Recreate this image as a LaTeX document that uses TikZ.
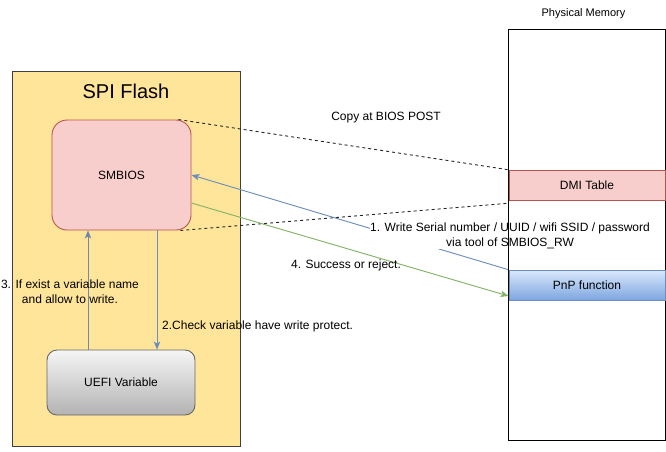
\documentclass[tikz,border=0pt]{standalone}
\usepackage{fontspec}
\setmainfont{Liberation Sans}
\usetikzlibrary{arrows.meta,calc}
\definecolor{spifill}{HTML}{FFE599}
\definecolor{redfill}{HTML}{F8CECC}
\definecolor{redline}{HTML}{B85450}
\definecolor{blueline}{HTML}{6C8EBF}
\definecolor{bluetop}{HTML}{DAE8FC}
\definecolor{bluebot}{HTML}{7EA6E0}
\definecolor{greyline}{HTML}{666666}
\definecolor{greenline}{HTML}{82B366}
\definecolor{greytop}{HTML}{F5F5F5}
\definecolor{greybot}{HTML}{B3B3B3}
\definecolor{line3}{HTML}{7088AC}
\tikzset{
  box/.style={draw, line width=0.9pt, minimum width=#1, inner sep=0pt, font=\fontsize{12}{14}\selectfont},
  lbl/.style={font=\fontsize{12}{14.5}\selectfont, inner sep=0pt, align=center},
  arr/.style={line width=0.9pt, -{Stealth[length=8pt,width=6.5pt,inset=2pt]}},
  dashln/.style={line width=0.9pt, dash pattern=on 3pt off 3pt, black!85},
}
\begin{document}
\begin{tikzpicture}[x=1pt,y=-1pt]
\useasboundingbox (0,0) rectangle (666,451);
% SPI Flash container
\node[box=228pt, minimum height=375pt, fill=spifill, draw=black!75] (spi) at (126,258.5) {};
\node[font=\fontsize{20}{24}\selectfont, inner sep=0pt] (spititle) at (126,91) {SPI Flash};
% SMBIOS
\node[box=139pt, minimum height=110pt, fill=redfill, draw=redline, rounded corners=15pt] (smbios) at (121.5,175) {SMBIOS};
% UEFI variable
\node[box=148pt, minimum height=65pt, top color=greytop, bottom color=greybot, draw=greyline, rounded corners=10pt] (uefi) at (121,382.5) {UEFI Variable};
% Physical memory label
\node[font=\fontsize{11}{13}\selectfont, inner sep=0pt] (memlbl) at (583.5,14) {Physical Memory};
% placeholders for memory parts
\node[minimum width=156pt, minimum height=410pt, inner sep=0pt] (mem) at (587,235) {};
\node[minimum width=156pt, minimum height=30pt, inner sep=0pt] (dmipos) at (587,185) {};
\node[minimum width=156pt, minimum height=30pt, inner sep=0pt] (pnppos) at (587,285) {};
% dashed copy lines
\coordinate (s1) at ($(smbios.north east)+(-13,0)$);
\coordinate (s2) at ($(smbios.south east)+(-11,0)$);
\coordinate (d2b) at ($(dmipos.south west)+(0,3)$);
\draw[dashln] (s1) -- (dmipos.north west);
\draw[dashln] (s2) -- (d2b);
\node[lbl] (copy) at (386,118) {Copy at BIOS POST};
% arrow 1: PnP -> SMBIOS
\draw[arr, draw=blueline, fill=blueline] (pnppos.north west) -- (smbios.east);
\node[lbl, fill=white] (l1) at (510,236) {1. Write Serial number / UUID / wifi SSID / password\\via tool of SMBIOS\_RW};
% memory border
\draw[line width=0.9pt, black] (mem.north west) rectangle (mem.south east);
% DMI table & PnP function
\node[box=156pt, minimum height=30pt, fill=redfill, draw=redline] (dmi) at (587,185) {DMI Table};
\node[box=156pt, minimum height=30pt, top color=bluetop, bottom color=bluebot, draw=blueline] (pnp) at (587,285) {PnP function};
% arrow 4: SMBIOS -> PnP
\coordinate (g1) at ($(smbios.east)+(0,28)$);
\coordinate (g2) at ($(pnp.west)+(0,11)$);
\draw[arr, draw=greenline, fill=greenline] (g1) -- (g2);
\node[lbl] (l4) at (346,265) {4. Success or reject.};
% arrow 2: SMBIOS -> UEFI
\coordinate (a2s) at ($(smbios.south)+(35.5,0)$);
\coordinate (a2e) at ($(uefi.north)+(36,0)$);
\draw[arr, draw=blueline, fill=blueline] (a2s) -- (a2e);
\node[lbl, anchor=west] (l2) at (162,326) {2.Check variable have write protect.};
% arrow 3: UEFI -> SMBIOS
\coordinate (a3s) at ($(uefi.north)+(-33,0)$);
\coordinate (a3e) at ($(smbios.south)+(-33.5,0)$);
\draw[arr, line width=0.7pt, draw=line3, fill=line3] (a3s) -- (a3e);
\node[lbl] (l3) at (70,291.5) {3. If exist a variable name\\and allow to write.};
\end{tikzpicture}
\end{document}
